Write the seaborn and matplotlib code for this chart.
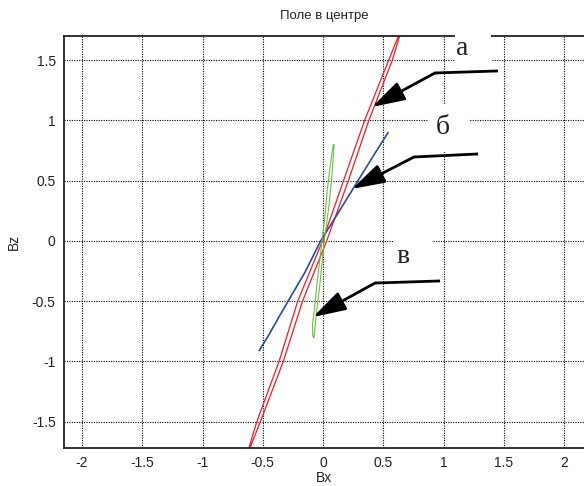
import matplotlib
matplotlib.use("Agg")
import matplotlib.pyplot as plt
import seaborn as sns
import pandas as pd
from matplotlib.patches import Rectangle

# ---- data ----
red_x = [-0.64, -0.52, -0.33, -0.17, 0.03, 0.21, 0.38, 0.575, 0.665,
         0.545, 0.345, 0.17, -0.005, -0.21, -0.365, -0.55, -0.64]
red_y = [-1.8, -1.5, -1.0, -0.5, 0.0, 0.5, 1.0, 1.5, 1.8,
         1.5, 1.0, 0.5, 0.0, -0.5, -1.0, -1.5, -1.8]

blue_x = [-0.53, -0.45, -0.36, -0.29, -0.15, -0.02, 0.13, 0.29, 0.42, 0.54]
blue_y = [-0.91, -0.78, -0.62, -0.50, -0.26, 0.0, 0.24, 0.50, 0.71, 0.90]

green_x = [-0.075, -0.055, -0.025, 0.01, 0.05, 0.075, 0.085, 0.092, 0.085,
           0.07, 0.05, 0.035, 0.015, -0.02, -0.05, -0.07, -0.088, -0.085, -0.075]
green_y = [-0.80, -0.60, -0.35, 0.0, 0.30, 0.55, 0.70, 0.80, 0.80,
           0.70, 0.55, 0.42, 0.20, -0.10, -0.35, -0.55, -0.70, -0.79, -0.80]

xticks = [-2, -1.5, -1, -0.5, 0, 0.5, 1, 1.5, 2]
xtick_labels = ["-2", "-1.5", "-1", "-0.5", "0", "0.5", "1", "1.5", "2"]
yticks = [-1.5, -1, -0.5, 0, 0.5, 1, 1.5]
ytick_labels = ["-1.5", "-1", "-0.5", "0", "0.5", "1", "1.5"]

labels = ["а", "б", "в"]
label_pos = [(1.154, 1.60), (0.996, 0.938), (0.664, -0.133)]
label_boxes = [(1.095, 1.419, 0.30, 0.40), (0.871, 0.740, 0.35, 0.39), (0.581, -0.257, 0.32, 0.33)]
arrow_start = [(1.452, 1.411), (1.286, 0.722), (0.971, -0.332)]
arrow_knee = [(0.929, 1.394), (0.755, 0.697), (0.432, -0.349)]
arrow_tip = [(0.407, 1.112), (0.241, 0.432), (-0.083, -0.631)]

title = "Поле в центре"
xlabel = "Bx"
ylabel = "Bz"

# ---- plotting ----
sns.set_style("white")
plt.rcParams["font.family"] = ["Liberation Sans", "DejaVu Sans"]

fig = plt.figure(figsize=(5.84, 4.86), dpi=100)
ax = fig.add_axes([64 / 584, 1 - 447.5 / 486, (584 - 64) / 584, (447.5 - 36) / 486])

df_red = pd.DataFrame({"x": red_x, "y": red_y})
df_blue = pd.DataFrame({"x": blue_x, "y": blue_y})
df_green = pd.DataFrame({"x": green_x, "y": green_y})

sns.lineplot(data=df_red, x="x", y="y", sort=False, estimator=None, color="#ee1c24", lw=0.9, ax=ax)
sns.lineplot(data=df_blue, x="x", y="y", sort=False, estimator=None, color="#2a4b9b", lw=1.2, ax=ax)
sns.lineplot(data=df_green, x="x", y="y", sort=False, estimator=None, color="#6cc04a", lw=0.8, ax=ax)

ax.set_xlim(-2.15, 2.166)
ax.set_ylim(-1.714, 1.701)
ax.set_xticks(xticks)
ax.set_xticklabels(xtick_labels, fontsize=10, color="#222222")
ax.set_yticks(yticks)
ax.set_yticklabels(ytick_labels, fontsize=10, color="#222222")
ax.tick_params(direction="in", length=4, width=0.8, color="#222222", pad=6)

ax.grid(True, color="black", linestyle=(0, (1, 1.2)), lw=0.8)
for s in ["left", "bottom", "top"]:
    ax.spines[s].set_visible(True)
    ax.spines[s].set_color("#222222")
    ax.spines[s].set_linewidth(1.3)
ax.spines["right"].set_visible(False)

ax.set_title(title, fontsize=9.5, pad=12, color="#222222")
ax.set_xlabel(xlabel, fontsize=10, labelpad=1, color="#222222")
ax.set_ylabel(ylabel, fontsize=10, labelpad=8, color="#222222")

for lab, pos, box, s, k, t in zip(labels, label_pos, label_boxes, arrow_start, arrow_knee, arrow_tip):
    rect = Rectangle((box[0], box[1]), box[2], box[3], facecolor="white", edgecolor="none",
                     zorder=5, clip_on=False)
    ax.add_patch(rect)
    ax.text(pos[0], pos[1], lab, fontsize=20, family=["Liberation Serif", "DejaVu Serif"],
            ha="center", va="center", zorder=6, color="#222222")
    ax.plot([s[0], k[0]], [s[1], k[1]], color="black", lw=2.0, zorder=7, solid_capstyle="butt")
    ax.annotate("", xy=t, xytext=k,
                arrowprops=dict(arrowstyle="-|>,head_length=1.0,head_width=0.3",
                                mutation_scale=20, lw=2.0, color="black",
                                shrinkA=0, shrinkB=0),
                zorder=7)

fig.savefig("out.png", dpi=100)
